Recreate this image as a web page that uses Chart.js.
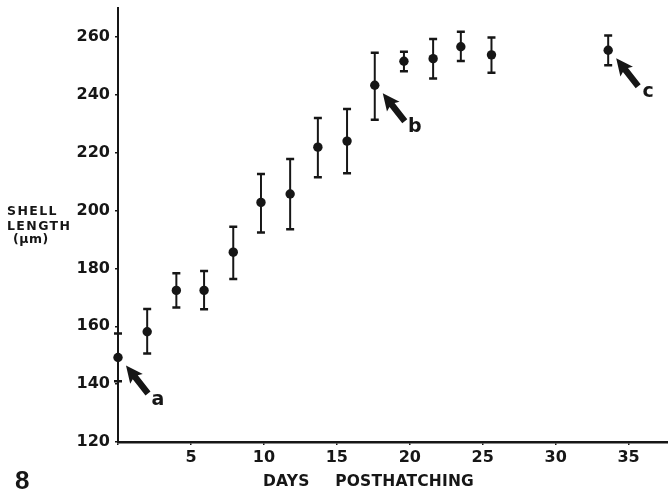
<!DOCTYPE html>
<html>
<head>
<meta charset="utf-8">
<script src="https://cdn.jsdelivr.net/npm/chart.js@4.4.1/dist/chart.umd.min.js"></script>
<style>
  html, body { margin: 0; padding: 0; background: #fff; }
  #wrap { position: relative; width: 668px; height: 495px; }
  canvas { position: absolute; left: 0; top: 0; }
  .lbl { position: absolute; font-family: "DejaVu Sans", sans-serif; font-weight: bold; color: #161616; white-space: nowrap; }
  .ytitle { font-size: 12.5px; letter-spacing: 1.4px; line-height: 14px; }
</style>
</head>
<body>
<div id="wrap">
  <canvas id="chart" width="668" height="495"></canvas>
  <div class="lbl ytitle" style="left:7px; top:204px;">SHELL</div>
  <div class="lbl ytitle" style="left:7px; top:219px;">LENGTH</div>
  <div class="lbl ytitle" style="left:13px; top:232px; letter-spacing:0.5px;">(µm)</div>
  <div class="lbl" style="left:263px; top:472px; font-size:15.5px; word-spacing:20px; letter-spacing:0.2px;">DAYS POSTHATCHING</div>
  <div class="lbl" style="left:15px; top:466.5px; font-family:'Liberation Sans', sans-serif; font-size:26px; line-height:26px;">8</div>
</div>
<script>
document.addEventListener("DOMContentLoaded", function () {
    // Valeurs (jours, moyenne, bornes des barres d'erreur)
    const days = [0, 2, 4, 5.9, 7.9, 9.8, 11.8, 13.7, 15.7, 17.6, 19.6, 21.6, 23.5, 25.6, 33.6];
    const meanLength = [149.2, 158.1, 172.4, 172.4, 185.6, 202.8, 205.7, 221.9, 224.0, 243.3, 251.6, 252.5, 256.6, 253.8, 255.4];
    const upperLength = [157.5, 166.0, 178.3, 179.1, 194.4, 212.6, 217.8, 232.0, 235.1, 254.5, 254.9, 259.3, 261.8, 259.8, 260.5];
    const lowerLength = [141.0, 150.6, 166.5, 165.9, 176.3, 192.4, 193.5, 211.5, 212.9, 231.4, 248.1, 245.6, 251.7, 247.6, 250.2];

    // Flèches annotées (indice du point visé)
    const arrowIndex = [0, 9, 14];
    const arrowLabels = ['a', 'b', 'c'];

    const ink = '#161616';
    const tickFont = { family: 'DejaVu Sans', size: 16, weight: 'bold' };

    // Pas de marge automatique : la zone du graphique est fixée à la main
    function fixBox(s, size) {
        if (s.isHorizontal()) s.height = size; else s.width = size;
        s.paddingLeft = 0; s.paddingRight = 0; s.paddingTop = 0; s.paddingBottom = 0;
    }

    // Barres d'erreur
    const errorBars = {
        id: 'errorBars',
        beforeDatasetsDraw(chart) {
            const { ctx, scales: { x, y } } = chart;
            ctx.save();
            ctx.strokeStyle = ink;
            days.forEach((d, i) => {
                const px = x.getPixelForValue(d);
                const top = y.getPixelForValue(upperLength[i]);
                const bot = y.getPixelForValue(lowerLength[i]);
                ctx.lineWidth = 2;
                ctx.beginPath();
                ctx.moveTo(px, top);
                ctx.lineTo(px, bot);
                ctx.stroke();
                ctx.lineWidth = 2.5;
                ctx.beginPath();
                ctx.moveTo(px - 4, top); ctx.lineTo(px + 4, top);
                ctx.moveTo(px - 4, bot); ctx.lineTo(px + 4, bot);
                ctx.stroke();
            });
            ctx.restore();
        }
    };

    // Flèches épaisses + lettres
    const arrows = {
        id: 'arrows',
        afterDatasetsDraw(chart) {
            const { ctx, scales: { x, y } } = chart;
            ctx.save();
            ctx.fillStyle = ink;
            arrowIndex.forEach((idx, k) => {
                const px = x.getPixelForValue(days[idx]);
                const py = y.getPixelForValue(meanLength[idx]);
                const tx = px + 8, ty = py + 8;       // pointe
                const ex = px + 30, ey = py + 36;     // queue
                const ang = Math.atan2(ey - ty, ex - tx);
                const len = Math.hypot(ex - tx, ey - ty);
                ctx.save();
                ctx.translate(tx, ty);
                ctx.rotate(ang);
                ctx.beginPath();
                ctx.moveTo(0, 0);
                ctx.lineTo(17, -8);
                ctx.lineTo(15, -3.2);
                ctx.lineTo(len, -3.2);
                ctx.lineTo(len, 3.2);
                ctx.lineTo(15, 3.2);
                ctx.lineTo(17, 8);
                ctx.closePath();
                ctx.fill();
                ctx.restore();
                ctx.font = 'bold 19px "DejaVu Sans"';
                ctx.textAlign = 'center';
                ctx.textBaseline = 'alphabetic';
                ctx.fillText(arrowLabels[k], px + 40, py + 47);
            });
            ctx.restore();
        }
    };

    const ctx = document.getElementById('chart').getContext('2d');
    new Chart(ctx, {
        type: 'scatter',
        data: {
            datasets: [{
                data: days.map((d, i) => ({ x: d, y: meanLength[i] })),
                backgroundColor: ink,
                borderColor: ink,
                pointRadius: 4.7,
                pointBorderWidth: 0,
                clip: false
            }]
        },
        options: {
            responsive: false,
            animation: false,
            devicePixelRatio: 1,
            layout: { autoPadding: false, padding: { top: 8, right: 0, left: 0, bottom: 0 } },
            plugins: { legend: { display: false }, tooltip: { enabled: false } },
            scales: {
                x: {
                    type: 'linear',
                    min: 0,
                    max: 37.7,
                    afterFit: s => fixBox(s, 53),
                    border: { display: true, color: ink, width: 2.5 },
                    grid: { display: true, drawOnChartArea: false, drawTicks: true, tickLength: 3, color: ink, lineWidth: 1.5 },
                    ticks: {
                        stepSize: 5,
                        includeBounds: false,
                        color: ink,
                        font: tickFont,
                        padding: 3,
                        maxRotation: 0,
                        callback: v => (v === 0 ? '' : v)
                    }
                },
                y: {
                    type: 'linear',
                    min: 120,
                    max: 270,
                    afterFit: s => fixBox(s, 118),
                    border: { display: true, color: ink, width: 2 },
                    grid: { display: true, drawOnChartArea: false, drawTicks: true, tickLength: 3, color: ink, lineWidth: 1.5 },
                    ticks: {
                        stepSize: 20,
                        includeBounds: false,
                        color: ink,
                        font: tickFont,
                        padding: 5
                    }
                }
            }
        },
        plugins: [errorBars, arrows]
    });
});
</script>
</body>
</html>
